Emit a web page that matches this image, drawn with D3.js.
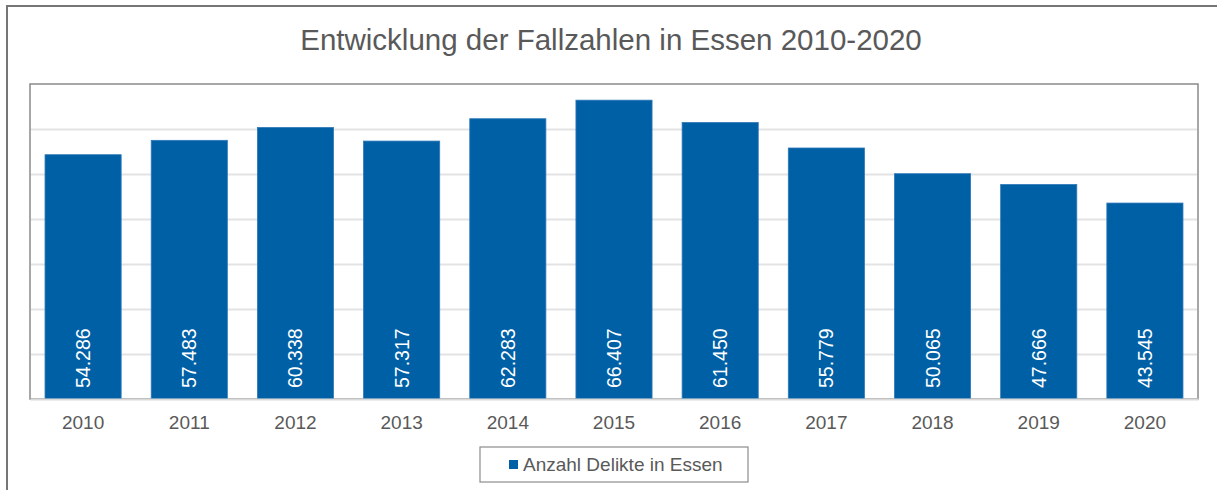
<!DOCTYPE html>
<html>
<head>
<meta charset="utf-8">
<script src="https://cdn.jsdelivr.net/npm/d3@7"></script>
<style>
  body { margin: 0; background: #fff; }
  svg { display: block; font-family: 'Liberation Sans', Arial, sans-serif; }
</style>
</head>
<body>
<svg id="chart" width="1217" height="490"></svg>
<script>
const years = ['2010', '2011', '2012', '2013', '2014', '2015', '2016', '2017', '2018', '2019', '2020']
const cases = [54286, 57483, 60338, 57317, 62283, 66407, 61450, 55779, 50065, 47666, 43545]
const labels = ['54.286', '57.483', '60.338', '57.317', '62.283', '66.407', '61.450', '55.779', '50.065', '47.666', '43.545']
const gridTicks = [10000, 20000, 30000, 40000, 50000, 60000]
const title = 'Entwicklung der Fallzahlen in Essen 2010-2020'
const seriesName = 'Anzahl Delikte in Essen'

const data = years.map((y, i) => ({ year: y, value: cases[i], label: labels[i] }))

const svg = d3.select('#chart')
const margin = { top: 84, right: 19, bottom: 91, left: 30 }
const width = 1217 - margin.left - margin.right
const height = 490 - margin.top - margin.bottom

// outer frame
svg.append('rect')
  .attr('x', 7).attr('y', 6)
  .attr('width', 1230).attr('height', 500)
  .attr('fill', 'none').attr('stroke', '#767676').attr('stroke-width', 2)

// title
svg.append('text')
  .attr('x', 611).attr('y', 50)
  .attr('text-anchor', 'middle')
  .attr('font-size', 29.5)
  .attr('fill', '#595959')
  .text(title)

const g = svg.append('g').attr('transform', 'translate(' + margin.left + ',' + margin.top + ')')

const x = d3.scaleBand().domain(years).range([0, width]).paddingInner(0.283).paddingOuter(0.1415)
const y = d3.scaleLinear().domain([0, 70000]).range([height, 0])

// plot border
g.append('rect')
  .attr('x', 0).attr('y', 0)
  .attr('width', width).attr('height', height)
  .attr('fill', 'none').attr('stroke', '#8a8a8a').attr('stroke-width', 1.5)

// gridlines
g.selectAll('.grid')
  .data(gridTicks)
  .enter()
  .append('line')
  .attr('x1', 1).attr('x2', width - 1)
  .attr('y1', (d) => Math.round(y(d)) + 0.5)
  .attr('y2', (d) => Math.round(y(d)) + 0.5)
  .attr('stroke', '#e3e3e3').attr('stroke-width', 2)

// bars
g.selectAll('.bar')
  .data(data)
  .enter()
  .append('rect')
  .attr('class', 'bar')
  .attr('x', (d) => x(d.year))
  .attr('y', (d) => y(d.value))
  .attr('width', x.bandwidth())
  .attr('height', (d) => height - y(d.value))
  .attr('fill', '#0060a6')
  .attr('stroke', '#2f78b8').attr('stroke-width', 0.8)

// value labels
g.selectAll('.val')
  .data(data)
  .enter()
  .append('text')
  .attr('transform', (d) => 'translate(' + (x(d.year) + x.bandwidth() / 2) + ',' + (height - 11) + ')rotate(-90)')
  .attr('dy', '0.36em')
  .attr('font-size', 19.5)
  .attr('fill', '#fff')
  .text((d) => d.label)

// x axis
const xAxis = g.append('g')
  .attr('transform', 'translate(0,' + height + ')')
  .call(d3.axisBottom(x).tickSize(0).tickPadding(17))
xAxis.select('.domain').attr('stroke', '#d9d9d9').attr('stroke-width', 2)
xAxis.selectAll('text')
  .attr('font-size', 19)
  .attr('font-family', "'Liberation Sans', Arial, sans-serif")
  .attr('fill', '#595959')

// legend
const legend = svg.append('g').attr('transform', 'translate(480,447)')
legend.append('rect')
  .attr('width', 268).attr('height', 35)
  .attr('fill', '#fff').attr('stroke', '#8c8c8c').attr('stroke-width', 1.2)
legend.append('rect')
  .attr('x', 29).attr('y', 13)
  .attr('width', 9).attr('height', 9)
  .attr('fill', '#0060a6')
legend.append('text')
  .attr('x', 43).attr('y', 24)
  .attr('font-size', 19)
  .attr('fill', '#595959')
  .text(seriesName)
</script>
</body>
</html>
